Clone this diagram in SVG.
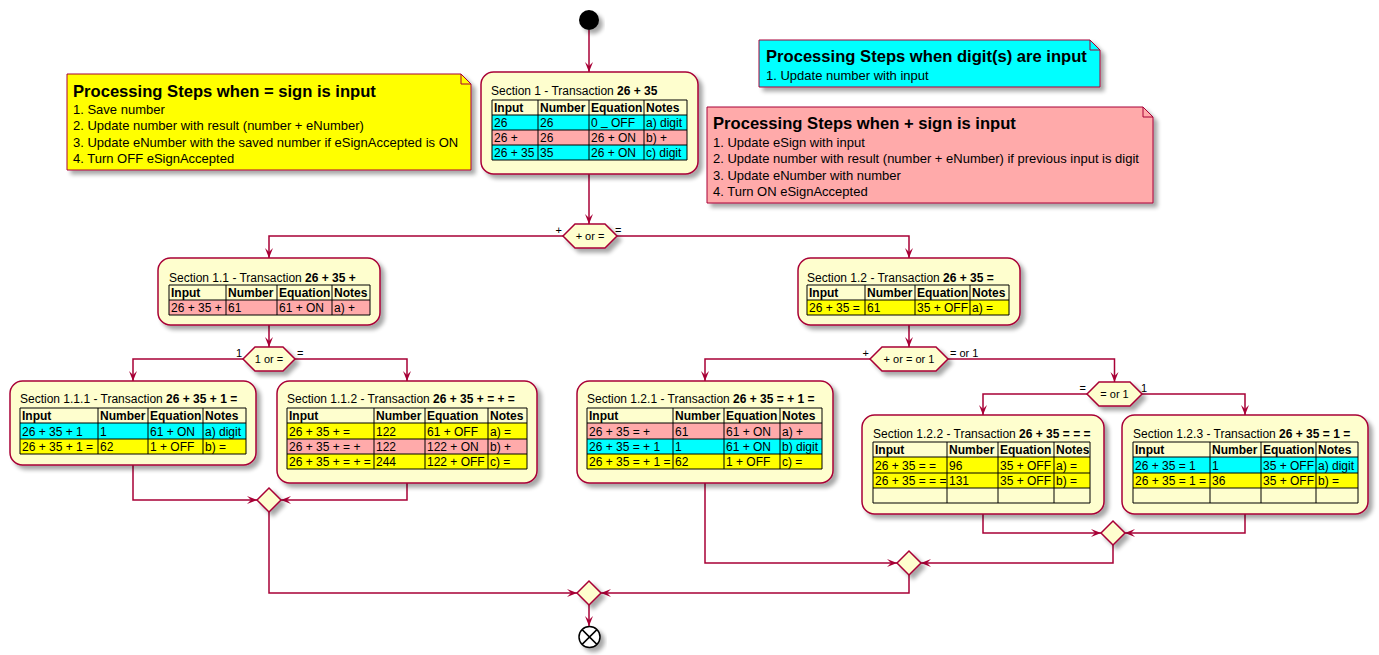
<svg xmlns="http://www.w3.org/2000/svg" width="1379" height="655" viewBox="0 0 1379 655">
<defs>
<filter id="sh" x="-20%" y="-20%" width="150%" height="170%">
<feGaussianBlur in="SourceAlpha" stdDeviation="2"/>
<feOffset dx="4" dy="4"/>
<feComponentTransfer><feFuncA type="linear" slope="0.35"/></feComponentTransfer>
<feMerge><feMergeNode/><feMergeNode in="SourceGraphic"/></feMerge>
</filter>
<marker id="arr" markerUnits="userSpaceOnUse" markerWidth="12" markerHeight="10" viewBox="-11 -5 12 10" refX="0" refY="0" orient="auto">
<path d="M-10,-4 L0,0 L-10,4 L-6,0 Z" fill="#A80036"/>
</marker>
<style>
.box{fill:#FEFECE;stroke:#A80036;stroke-width:1.5;filter:url(#sh)}
.dia{fill:#FEFECE;stroke:#A80036;stroke-width:1.5;filter:url(#sh)}
.note{stroke:#A80036;stroke-width:1;filter:url(#sh)}
.fold{fill:none;stroke:#A80036;stroke-width:1}
.t{font-family:"Liberation Sans",Arial,sans-serif;font-size:12px;fill:#000}
.s{font-family:"Liberation Sans",Arial,sans-serif;font-size:11px;fill:#000}
.nt{font-family:"Liberation Sans",Arial,sans-serif;font-size:16.6px;font-weight:bold;fill:#000}
.nb{font-family:"Liberation Sans",Arial,sans-serif;font-size:13px;fill:#000}
.b{font-weight:bold}
.grid{fill:none;stroke:#000;stroke-width:1}
.cy{fill:#00FFFF}.pk{fill:#FFAAAA}.ye{fill:#FFFF00}
.ln{fill:none;stroke:#A80036;stroke-width:1.5;marker-end:url(#arr)}
</style>
</defs>
<rect width="1379" height="655" fill="#FFFFFF"/>

<g id="connectors">
<polyline class="ln" points="589,30 589,72"/>
<polyline class="ln" points="589,174 589,224"/>
<polyline class="ln" points="563,236 269,236 269,258"/>
<polyline class="ln" points="617,236 909,236 909,258"/>
<polyline class="ln" points="269,325 269,347"/>
<polyline class="ln" points="243,359 133,359 133,381"/>
<polyline class="ln" points="295,359 407,359 407,381"/>
<polyline class="ln" points="909,325 909,347"/>
<polyline class="ln" points="870,359 705,359 705,381"/>
<polyline class="ln" points="948,359 1114.5,359 1114.5,382"/>
<polyline class="ln" points="1087,394 983,394 983,415"/>
<polyline class="ln" points="1142,394 1245,394 1245,415"/>
<polyline class="ln" points="133,465 133,500 257,500"/>
<polyline class="ln" points="407,483 407,500 281,500"/>
<polyline class="ln" points="983,514 983,533 1101,533"/>
<polyline class="ln" points="1245,514 1245,533 1125,533"/>
<polyline class="ln" points="705,483 705,563 897,563"/>
<polyline class="ln" points="1113,545 1113,563 921,563"/>
<polyline class="ln" points="269,512 269,593 577,593"/>
<polyline class="ln" points="909,575 909,593 601,593"/>
<polyline class="ln" points="589,605 589,626"/>
<text class="s" x="562" y="234" text-anchor="end">+</text>
<text class="s" x="615" y="234">=</text>
<text class="s" x="242" y="357" text-anchor="end">1</text>
<text class="s" x="297" y="357">=</text>
<text class="s" x="869" y="357" text-anchor="end">+</text>
<text class="s" x="950" y="357">= or 1</text>
<text class="s" x="1086" y="392" text-anchor="end">=</text>
<text class="s" x="1141" y="392">1</text>
</g>

<g id="start">
<circle cx="589" cy="20" r="10" fill="#000" filter="url(#sh)"/>
</g>

<g id="note-equal">
<path class="note" fill="#FFFF00" d="M67,74 L67,170 L471,170 L471,84 L461,74 Z"/>
<path class="fold" d="M461,74 L461,84 L471,84"/>
<text class="nt" x="73" y="97">Processing Steps when = sign is input</text>
<text class="nb" x="73" y="114">1. Save number</text>
<text class="nb" x="73" y="130.3">2. Update number with result (number + eNumber)</text>
<text class="nb" x="73" y="146.6">3. Update eNumber with the saved number if eSignAccepted is ON</text>
<text class="nb" x="73" y="163">4. Turn OFF eSignAccepted</text>
</g>

<g id="note-digit">
<path class="note" fill="#00FFFF" d="M759,40 L759,87 L1100,87 L1100,50 L1090,40 Z"/>
<path class="fold" d="M1090,40 L1090,50 L1100,50"/>
<text class="nt" x="766" y="62">Processing Steps when digit(s) are input</text>
<text class="nb" x="766" y="80">1. Update number with input</text>
</g>

<g id="note-plus">
<path class="note" fill="#FFAAAA" d="M707,107 L707,203 L1153,203 L1153,117 L1143,107 Z"/>
<path class="fold" d="M1143,107 L1143,117 L1153,117"/>
<text class="nt" x="713" y="129">Processing Steps when + sign is input</text>
<text class="nb" x="713" y="147">1. Update eSign with input</text>
<text class="nb" x="713" y="163.3">2. Update number with result (number + eNumber) if previous input is digit</text>
<text class="nb" x="713" y="179.6">3. Update eNumber with number</text>
<text class="nb" x="713" y="196">4. Turn ON eSignAccepted</text>
</g>

<g id="section-1">
<rect class="box" x="481" y="72" width="217" height="102" rx="12.5"/>
<text class="t" x="491" y="95">Section 1 - Transaction <tspan class="b">26 + 35</tspan></text>
<rect class="cy" x="492" y="115" width="195" height="15"/>
<rect class="pk" x="492" y="130" width="195" height="15"/>
<rect class="cy" x="492" y="145" width="195" height="15"/>
<path class="grid" d="M492,100h195v60h-195z M492,115h195 M492,130h195 M492,145h195 M538,100v60 M589,100v60 M644,100v60"/>
<text class="t b" y="112"><tspan x="494">Input</tspan><tspan x="540">Number</tspan><tspan x="591">Equation</tspan><tspan x="646">Notes</tspan></text>
<text class="t" y="127"><tspan x="494">26</tspan><tspan x="540">26</tspan><tspan x="591">0 </tspan><tspan dy="-2">_</tspan><tspan dy="2"> OFF</tspan><tspan x="646">a) digit</tspan></text>
<text class="t" y="142"><tspan x="494">26 +</tspan><tspan x="540">26</tspan><tspan x="591">26 + ON</tspan><tspan x="646">b) +</tspan></text>
<text class="t" y="157"><tspan x="494">26 + 35</tspan><tspan x="540">35</tspan><tspan x="591">26 + ON</tspan><tspan x="646">c) digit</tspan></text>
</g>

<g id="decision-plus-or-equal">
<polygon class="dia" points="563,236 575,224 605,224 617,236 605,248 575,248"/>
<text class="s" x="590" y="240" text-anchor="middle">+ or =</text>
</g>

<g id="section-1-1">
<rect class="box" x="158" y="258" width="222" height="67" rx="12.5"/>
<text class="t" x="169" y="282">Section 1.1 - Transaction <tspan class="b">26 + 35 +</tspan></text>
<rect class="pk" x="169" y="300" width="201" height="15"/>
<path class="grid" d="M169,285h201v30h-201z M169,300h201 M226,285v30 M277,285v30 M332,285v30"/>
<text class="t b" y="297"><tspan x="171">Input</tspan><tspan x="228">Number</tspan><tspan x="279">Equation</tspan><tspan x="334">Notes</tspan></text>
<text class="t" y="312"><tspan x="171">26 + 35 +</tspan><tspan x="228">61</tspan><tspan x="279">61 + ON</tspan><tspan x="334">a) +</tspan></text>
</g>

<g id="section-1-2">
<rect class="box" x="798" y="258" width="222" height="67" rx="12.5"/>
<text class="t" x="807" y="282">Section 1.2 - Transaction <tspan class="b">26 + 35 =</tspan></text>
<rect class="ye" x="807" y="300" width="202" height="15"/>
<path class="grid" d="M807,285h202v30h-202z M807,300h202 M865,285v30 M915,285v30 M970,285v30"/>
<text class="t b" y="297"><tspan x="809">Input</tspan><tspan x="867">Number</tspan><tspan x="917">Equation</tspan><tspan x="972">Notes</tspan></text>
<text class="t" y="312"><tspan x="809">26 + 35 =</tspan><tspan x="867">61</tspan><tspan x="917">35 + OFF</tspan><tspan x="972">a) =</tspan></text>
</g>

<g id="decision-1-or-equal">
<polygon class="dia" points="243,359 255,347 283,347 295,359 283,371 255,371"/>
<text class="s" x="269" y="363" text-anchor="middle">1 or =</text>
</g>

<g id="decision-plus-equal-1">
<polygon class="dia" points="870,359 882,347 936,347 948,359 936,371 882,371"/>
<text class="s" x="909" y="363" text-anchor="middle">+ or = or 1</text>
</g>

<g id="decision-equal-or-1">
<polygon class="dia" points="1087,394 1099,382 1130,382 1142,394 1130,406 1099,406"/>
<text class="s" x="1114.5" y="398" text-anchor="middle">= or 1</text>
</g>

<g id="section-1-1-1">
<rect class="box" x="10" y="381" width="246" height="84" rx="12.5"/>
<text class="t" x="20" y="403">Section 1.1.1 - Transaction <tspan class="b">26 + 35 + 1 =</tspan></text>
<rect class="cy" x="20" y="423" width="226" height="16"/>
<rect class="ye" x="20" y="439" width="226" height="15"/>
<path class="grid" d="M20,408h226v46h-226z M20,423h226 M20,439h226 M98,408v46 M148,408v46 M203,408v46"/>
<text class="t b" y="420"><tspan x="22">Input</tspan><tspan x="100">Number</tspan><tspan x="150">Equation</tspan><tspan x="205">Notes</tspan></text>
<text class="t" y="436"><tspan x="22">26 + 35 + 1</tspan><tspan x="100">1</tspan><tspan x="150">61 + ON</tspan><tspan x="205">a) digit</tspan></text>
<text class="t" y="451"><tspan x="22">26 + 35 + 1 =</tspan><tspan x="100">62</tspan><tspan x="150">1 + OFF</tspan><tspan x="205">b) =</tspan></text>
</g>

<g id="section-1-1-2">
<rect class="box" x="277" y="381" width="260" height="102" rx="12.5"/>
<text class="t" x="287" y="403">Section 1.1.2 - Transaction <tspan class="b">26 + 35 + = + =</tspan></text>
<rect class="ye" x="287" y="423" width="240" height="16"/>
<rect class="pk" x="287" y="439" width="240" height="15"/>
<rect class="ye" x="287" y="454" width="240" height="15"/>
<path class="grid" d="M287,408h240v61h-240z M287,423h240 M287,439h240 M287,454h240 M374,408v61 M425,408v61 M488,408v61"/>
<text class="t b" y="420"><tspan x="289">Input</tspan><tspan x="376">Number</tspan><tspan x="427">Equation</tspan><tspan x="490">Notes</tspan></text>
<text class="t" y="436"><tspan x="289">26 + 35 + =</tspan><tspan x="376">122</tspan><tspan x="427">61 + OFF</tspan><tspan x="490">a) =</tspan></text>
<text class="t" y="451"><tspan x="289">26 + 35 + = +</tspan><tspan x="376">122</tspan><tspan x="427">122 + ON</tspan><tspan x="490">b) +</tspan></text>
<text class="t" y="466"><tspan x="289">26 + 35 + = + =</tspan><tspan x="376">244</tspan><tspan x="427">122 + OFF</tspan><tspan x="490">c) =</tspan></text>
</g>

<g id="section-1-2-1">
<rect class="box" x="577" y="381" width="256" height="102" rx="12.5"/>
<text class="t" x="587" y="403">Section 1.2.1 - Transaction <tspan class="b">26 + 35 = + 1 =</tspan></text>
<rect class="pk" x="587" y="423" width="235" height="16"/>
<rect class="cy" x="587" y="439" width="235" height="15"/>
<rect class="ye" x="587" y="454" width="235" height="15"/>
<path class="grid" d="M587,408h235v61h-235z M587,423h235 M587,439h235 M587,454h235 M673,408v61 M724,408v61 M780,408v61"/>
<text class="t b" y="420"><tspan x="589">Input</tspan><tspan x="675">Number</tspan><tspan x="726">Equation</tspan><tspan x="782">Notes</tspan></text>
<text class="t" y="436"><tspan x="589">26 + 35 = +</tspan><tspan x="675">61</tspan><tspan x="726">61 + ON</tspan><tspan x="782">a) +</tspan></text>
<text class="t" y="451"><tspan x="589">26 + 35 = + 1</tspan><tspan x="675">1</tspan><tspan x="726">61 + ON</tspan><tspan x="782">b) digit</tspan></text>
<text class="t" y="466"><tspan x="589">26 + 35 = + 1 =</tspan><tspan x="675">62</tspan><tspan x="726">1 + OFF</tspan><tspan x="782">c) =</tspan></text>
</g>

<g id="section-1-2-2">
<rect class="box" x="862" y="415" width="242" height="99" rx="12.5"/>
<text class="t" x="873" y="438">Section 1.2.2 - Transaction <tspan class="b">26 + 35 = = =</tspan></text>
<rect class="ye" x="873" y="457" width="217" height="16"/>
<rect class="ye" x="873" y="473" width="217" height="15"/>
<path class="grid" d="M873,442h217v61h-217z M873,457h217 M873,473h217 M873,488h217 M947,442v61 M998,442v61 M1054,442v61"/>
<text class="t b" y="454"><tspan x="875">Input</tspan><tspan x="949">Number</tspan><tspan x="1000">Equation</tspan><tspan x="1056">Notes</tspan></text>
<text class="t" y="470"><tspan x="875">26 + 35 = =</tspan><tspan x="949">96</tspan><tspan x="1000">35 + OFF</tspan><tspan x="1056">a) =</tspan></text>
<text class="t" y="485"><tspan x="875">26 + 35 = = =</tspan><tspan x="949">131</tspan><tspan x="1000">35 + OFF</tspan><tspan x="1056">b) =</tspan></text>
</g>

<g id="section-1-2-3">
<rect class="box" x="1122" y="415" width="246" height="99" rx="12.5"/>
<text class="t" x="1133" y="438">Section 1.2.3 - Transaction <tspan class="b">26 + 35 = 1 =</tspan></text>
<rect class="cy" x="1133" y="457" width="225" height="16"/>
<rect class="ye" x="1133" y="473" width="225" height="15"/>
<path class="grid" d="M1133,442h225v61h-225z M1133,457h225 M1133,473h225 M1133,488h225 M1210,442v61 M1261,442v61 M1316,442v61"/>
<text class="t b" y="454"><tspan x="1135">Input</tspan><tspan x="1212">Number</tspan><tspan x="1263">Equation</tspan><tspan x="1318">Notes</tspan></text>
<text class="t" y="470"><tspan x="1135">26 + 35 = 1</tspan><tspan x="1212">1</tspan><tspan x="1263">35 + OFF</tspan><tspan x="1318">a) digit</tspan></text>
<text class="t" y="485"><tspan x="1135">26 + 35 = 1 =</tspan><tspan x="1212">36</tspan><tspan x="1263">35 + OFF</tspan><tspan x="1318">b) =</tspan></text>
</g>

<g id="merge-1-1">
<polygon class="dia" points="257,500 269,488 281,500 269,512"/>
</g>
<g id="merge-1-2-x">
<polygon class="dia" points="1101,533 1113,521 1125,533 1113,545"/>
</g>
<g id="merge-1-2">
<polygon class="dia" points="897,563 909,551 921,563 909,575"/>
</g>
<g id="merge-final">
<polygon class="dia" points="577,593 589,581 601,593 589,605"/>
</g>

<g id="end">
<circle cx="589.5" cy="637" r="10.5" fill="#FFFFFF" stroke="#000" stroke-width="1.5" filter="url(#sh)"/>
<path d="M582.1,629.6 L596.9,644.4 M596.9,629.6 L582.1,644.4" stroke="#000" stroke-width="1.5"/>
</g>
</svg>
